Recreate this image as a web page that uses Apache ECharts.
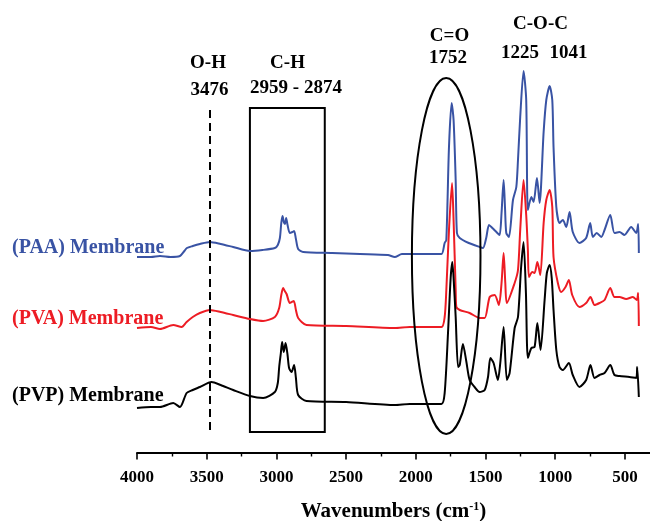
<!DOCTYPE html>
<html><head><meta charset="utf-8">
<script src="https://cdn.jsdelivr.net/npm/echarts@6/dist/echarts.min.js"></script>
<style>html,body{margin:0;padding:0;background:#fff}#c{width:650px;height:521px}</style>
</head><body><div id="c"></div>
<script>
// x: wavenumber (cm-1), y: offset absorbance (a.u.)
const wavenumberTicks = [4000, 3500, 3000, 2500, 2000, 1500, 1000, 500];
const wavenumberMinorTicks = [3750, 3250, 2750, 2250, 1750, 1250, 750];
const seriesNames = ['(PAA) Membrane', '(PVA) Membrane', '(PVP) Membrane'];
const seriesColors = ['#3953a4', '#ed1c24', '#000000'];

const paa = [[4000,196],[3900,196],[3835,197],[3760,196],[3692,197],[3660,202],[3642,205],[3600,207],[3549,209],[3477,211],[3400,209],[3310,206],[3190,202],[3100,203],[3011,205],[2990,208],[2975,215],[2965,230],[2956,237],[2947,231],[2939,229],[2930,235],[2920,228],[2904,220],[2885,221],[2873,222],[2860,214],[2844,204],[2808,201],[2600,200],[2400,199],[2200,198],[2151,196],[2100,199],[2044,199],[1900,199],[1816,199],[1793,210],[1781,213],[1762,306],[1743,350],[1729,333],[1714,273],[1705,220],[1685,215],[1620,210],[1542,206],[1518,205],[1495,215],[1475,228],[1451,225],[1422,221],[1399,218],[1385,240],[1370,273],[1360,245],[1351,220],[1332,216],[1303,253],[1279,266],[1267,293],[1251,336],[1227,382],[1208,353],[1196,243],[1171,256],[1155,251],[1131,275],[1112,250],[1083,321],[1064,353],[1040,367],[1021,353],[1012,306],[992,246],[969,230],[945,233],[921,226],[897,241],[874,221],[826,210],[778,215],[749,230],[730,216],[702,220],[670,216],[646,223],[605,238],[575,220],[539,221],[503,218],[455,226],[419,220],[405,229],[400,200]];

const pva = [[4000,125],[3900,126],[3835,124],[3740,128],[3680,126],[3644,131],[3600,136],[3549,140],[3477,143],[3400,141],[3310,138],[3190,134],[3095,132],[3011,136],[2980,145],[2965,158],[2952,165],[2940,162],[2927,159],[2904,150],[2890,151],[2875,152],[2860,143],[2844,135],[2784,128],[2500,127],[2151,125],[2044,126],[1816,126],[1793,136],[1781,163],[1762,223],[1740,270],[1729,233],[1714,163],[1709,146],[1685,143],[1614,140],[1542,135],[1506,135],[1470,156],[1434,158],[1404,148],[1385,170],[1370,200],[1358,170],[1347,150],[1291,170],[1267,183],[1251,223],[1227,273],[1208,238],[1196,203],[1188,176],[1164,181],[1148,180],[1128,191],[1107,178],[1083,230],[1064,253],[1040,263],[1021,246],[1012,196],[981,170],[957,161],[926,166],[902,173],[878,158],[826,146],[778,150],[747,156],[718,148],[682,150],[646,153],[605,165],[575,156],[539,156],[491,154],[443,156],[415,153],[405,160],[400,127]];

const pvp = [[4000,45],[3900,46],[3835,46],[3740,50],[3692,46],[3644,60],[3600,63],[3549,66],[3465,71],[3400,68],[3310,63],[3190,57],[3095,55],[3011,61],[2990,70],[2980,86],[2968,100],[2959,111],[2947,101],[2934,110],[2920,98],[2909,85],[2891,81],[2873,88],[2860,75],[2844,58],[2784,52],[2500,51],[2151,48],[2044,49],[1816,49],[1793,60],[1769,120],[1750,175],[1738,191],[1725,165],[1714,136],[1697,86],[1685,88],[1662,109],[1637,91],[1614,73],[1578,66],[1542,61],[1506,63],[1482,76],[1465,95],[1442,90],[1411,73],[1394,90],[1370,126],[1347,73],[1327,80],[1291,125],[1267,136],[1245,185],[1227,211],[1210,160],[1196,95],[1171,105],[1148,106],[1128,130],[1105,103],[1076,153],[1060,180],[1040,188],[1025,175],[1012,143],[992,103],[969,86],[945,83],[902,90],[874,78],[826,66],[778,73],[747,88],[718,75],[682,78],[646,80],[605,88],[575,78],[539,77],[467,76],[419,75],[412,86],[400,56]];

// annotation geometry in data units
const ohLine = {x: 3477, y0: 23, y1: 345};
const chBox = {x0: 3190, x1: 2653, y0: 21, y1: 345};
const coEllipse = {cx: 1782, cy: 197, halfWidth: 246, halfHeight: 178};
const X_MIN = 320, X_MAX = 4000;

const FONT = "'Liberation Serif','Times New Roman',serif";
const chart = echarts.init(document.getElementById('c'));

function mkSeries(i, data, extra) {
  return Object.assign({
    type: 'line', name: seriesNames[i], data: data, showSymbol: false, smooth: 0.25,
    xAxisIndex: 0, yAxisIndex: 0,
    lineStyle: {color: seriesColors[i], width: 2}, itemStyle: {color: seriesColors[i]},
    silent: true, animation: false, z: 3
  }, extra || {});
}

chart.setOption({
  animation: false,
  grid: {left: 137, right: 0, top: 0, bottom: 68, containLabel: false, outerBoundsMode: 'none'},
  xAxis: [{
    type: 'value', inverse: true, min: X_MIN, max: X_MAX, position: 'bottom',
    axisLine: {onZero: false, lineStyle: {color: '#000', width: 2}},
    axisTick: {show: true, inside: false, length: 6.5, customValues: wavenumberTicks, lineStyle: {color: '#000', width: 1.6}},
    splitLine: {show: false},
    axisLabel: {color: '#000', fontFamily: FONT, fontWeight: 'bold', fontSize: 17, margin: 16,
      customValues: wavenumberTicks, formatter: function (v) { return String(v); }},
    name: '{a|Wavenumbers (cm}{s|-1}{a|)}', nameLocation: 'middle', nameGap: 48,
    nameTextStyle: {rich: {
      a: {fontFamily: FONT, fontWeight: 'bold', fontSize: 21, color: '#000'},
      s: {fontFamily: FONT, fontWeight: 'bold', fontSize: 12, color: '#000', verticalAlign: 'top', padding: [0, 0, 10, 0]}
    }}
  }, {
    type: 'value', inverse: true, min: X_MIN, max: X_MAX, position: 'bottom', offset: 0,
    axisLine: {show: false, onZero: false},
    axisTick: {show: true, inside: false, length: 3.5, customValues: wavenumberMinorTicks, lineStyle: {color: '#000', width: 1.4}},
    axisLabel: {show: false}, splitLine: {show: false}
  }],
  yAxis: {type: 'value', min: 0, max: 453, show: false},
  series: [
    mkSeries(0, paa),
    mkSeries(1, pva),
    mkSeries(2, pvp, {
      markLine: {silent: true, symbol: ['none', 'none'], label: {show: false},
        lineStyle: {color: '#000', width: 2, type: [8, 5]},
        data: [[{coord: [ohLine.x, ohLine.y0]}, {coord: [ohLine.x, ohLine.y1]}]]},
      markArea: {silent: true, label: {show: false},
        itemStyle: {color: 'rgba(0,0,0,0)', borderColor: '#000', borderWidth: 2},
        data: [[{coord: [chBox.x0, chBox.y0]}, {coord: [chBox.x1, chBox.y1]}]]}
    })
  ]
});

const c = chart.convertToPixel({xAxisIndex: 0, yAxisIndex: 0}, [coEllipse.cx, coEllipse.cy]);
const e = chart.convertToPixel({xAxisIndex: 0, yAxisIndex: 0}, [coEllipse.cx - coEllipse.halfWidth, coEllipse.cy + coEllipse.halfHeight]);

function txt(s, x, y, color, align, size) {
  return {type: 'text', x: x, y: y, z: 10, silent: true,
    style: {text: s, fill: color || '#000', font: 'bold ' + (size || 19) + 'px ' + FONT, textAlign: align || 'center', textVerticalAlign: 'middle'}};
}

chart.setOption({
  graphic: [
    {type: 'ellipse', silent: true, z: 5,
      shape: {cx: c[0], cy: c[1], rx: Math.abs(e[0] - c[0]), ry: Math.abs(c[1] - e[1])},
      style: {fill: 'none', stroke: '#000', lineWidth: 2}},
    txt('O-H', 208, 63), txt('3476', 209.5, 90),
    txt('C-H', 287.5, 63), txt('2959 - 2874', 296, 88),
    txt('C=O', 449.5, 36), txt('1752', 448, 58),
    txt('C-O-C', 540.5, 24), txt('1225', 520, 53), txt('1041', 568.5, 53),
    txt(seriesNames[0], 12, 248, seriesColors[0], 'left', 20),
    txt(seriesNames[1], 12, 318.5, seriesColors[1], 'left', 20),
    txt(seriesNames[2], 12, 395.5, seriesColors[2], 'left', 20)
  ]
});
</script></body></html>
